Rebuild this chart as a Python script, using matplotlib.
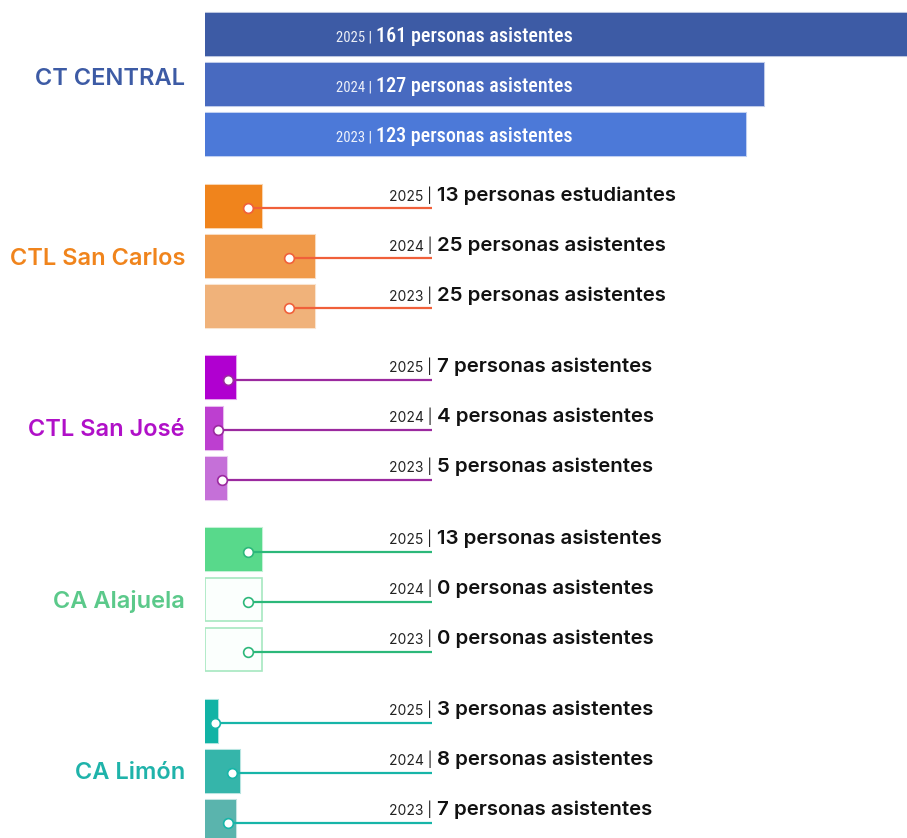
import matplotlib
matplotlib.use('Agg')
import matplotlib.pyplot as plt
import matplotlib.colors as mcolors

# attendance per site, rows ordered 2025, 2024, 2023
sites = ['CT CENTRAL', 'CTL San Carlos', 'CTL San José', 'CA Alajuela', 'CA Limón']
years = ['2025', '2024', '2023']
attendance = [
    [161, 127, 123],
    [13, 25, 25],
    [7, 4, 5],
    [13, 0, 0],
    [3, 8, 7],
]
units = [
    ['personas asistentes'] * 3,
    ['personas estudiantes', 'personas asistentes', 'personas asistentes'],
    ['personas asistentes'] * 3,
    ['personas asistentes'] * 3,
    ['personas asistentes'] * 3,
]

site_colors = ['#3d5ba5', '#f0841c', '#b010c8', '#5bc98a', '#1fb3aa']
bar_colors = [
    ['#3d5ba5', '#486ac0', '#4c79d8'],
    ['#f0841c', '#f09a4a', '#f0b27a'],
    ['#b000d0', '#bd3fd0', '#c570d8'],
    ['#58d98b', '#58d98b', '#58d98b'],
    ['#11b3a5', '#35b5aa', '#5ab4ad'],
]
line_colors = ['#ffffff', '#f0603a', '#9b2a9f', '#2cb87a', '#17b5a8']

W, H = 907, 838
PX_PER_UNIT = 4.4
X0 = 205
fig = plt.figure(figsize=(W / 100, H / 100), dpi=100)
ax = fig.add_axes([X0 / W, 0, (W - X0) / W, 1])
ax.set_xlim(0, (W - X0) / PX_PER_UNIT)
ax.set_ylim(H, 0)
ax.axis('off')

bold_font = ['Inter', 'DejaVu Sans']
narrow_font = ['Roboto Condensed', 'Liberation Sans Narrow', 'Inter', 'DejaVu Sans']

def px(x):
    return (x - X0) / PX_PER_UNIT

BAR_H = 43
GROUP_STEP = 171.5
ROW_STEP = 50
line_end = px(432)

for g, site in enumerate(sites):
    for r, year in enumerate(years):
        val = attendance[g][r]
        yc = 35 + g * GROUP_STEP + r * ROW_STEP
        col = bar_colors[g][r]
        edge = mcolors.to_rgba(col, 0.35)
        if val == 0:
            # empty placeholder box for sites without data
            ax.barh(yc, attendance[g][0], height=BAR_H, color='#fbfffd',
                    edgecolor='#a6e8c0', linewidth=1.2, zorder=2)
            dot_x = attendance[g][0] * 0.76
        else:
            ax.barh(yc, val, height=BAR_H, color=col, edgecolor=edge,
                    linewidth=1.5, zorder=2)
            dot_x = max(val * 0.76, 1.6)

        if g == 0:
            # big values: label inside the bar
            ax.text(px(372), yc + 6.5, f'{year} |', color='white', alpha=0.9,
                    fontsize=10.5, family=narrow_font, ha='right', va='baseline', zorder=4)
            ax.text(px(376), yc + 6.5, f'{val} {units[g][r]}', color='white',
                    fontsize=14.5, family=narrow_font, fontweight='medium',
                    ha='left', va='baseline', zorder=4)
            continue

        ly = yc + 2
        ax.plot([dot_x, line_end], [ly, ly], color=line_colors[g], lw=1.6,
                solid_capstyle='butt', zorder=3)
        ax.plot(dot_x, ly, 'o', ms=7, mfc='#ffffff', mec=line_colors[g], mew=1.2, zorder=4)
        ax.text(line_end, ly - 8, f'{year} |', color='#222222', fontsize=10,
                family=bold_font, ha='right', va='baseline', zorder=4)
        ax.text(px(437), ly - 8, f'{val} {units[g][r]}', color='#111111',
                fontsize=14.7, family=bold_font, fontweight='semibold',
                ha='left', va='baseline', zorder=4)

    label_y = 35 + g * GROUP_STEP + ROW_STEP + 2
    if g == 0:
        label_y -= 8
    fig.text(185 / W, 1 - label_y / H, site, color=site_colors[g], fontsize=17,
             family=bold_font, fontweight='semibold', ha='right', va='center')

fig.savefig('out.png', dpi=100)
